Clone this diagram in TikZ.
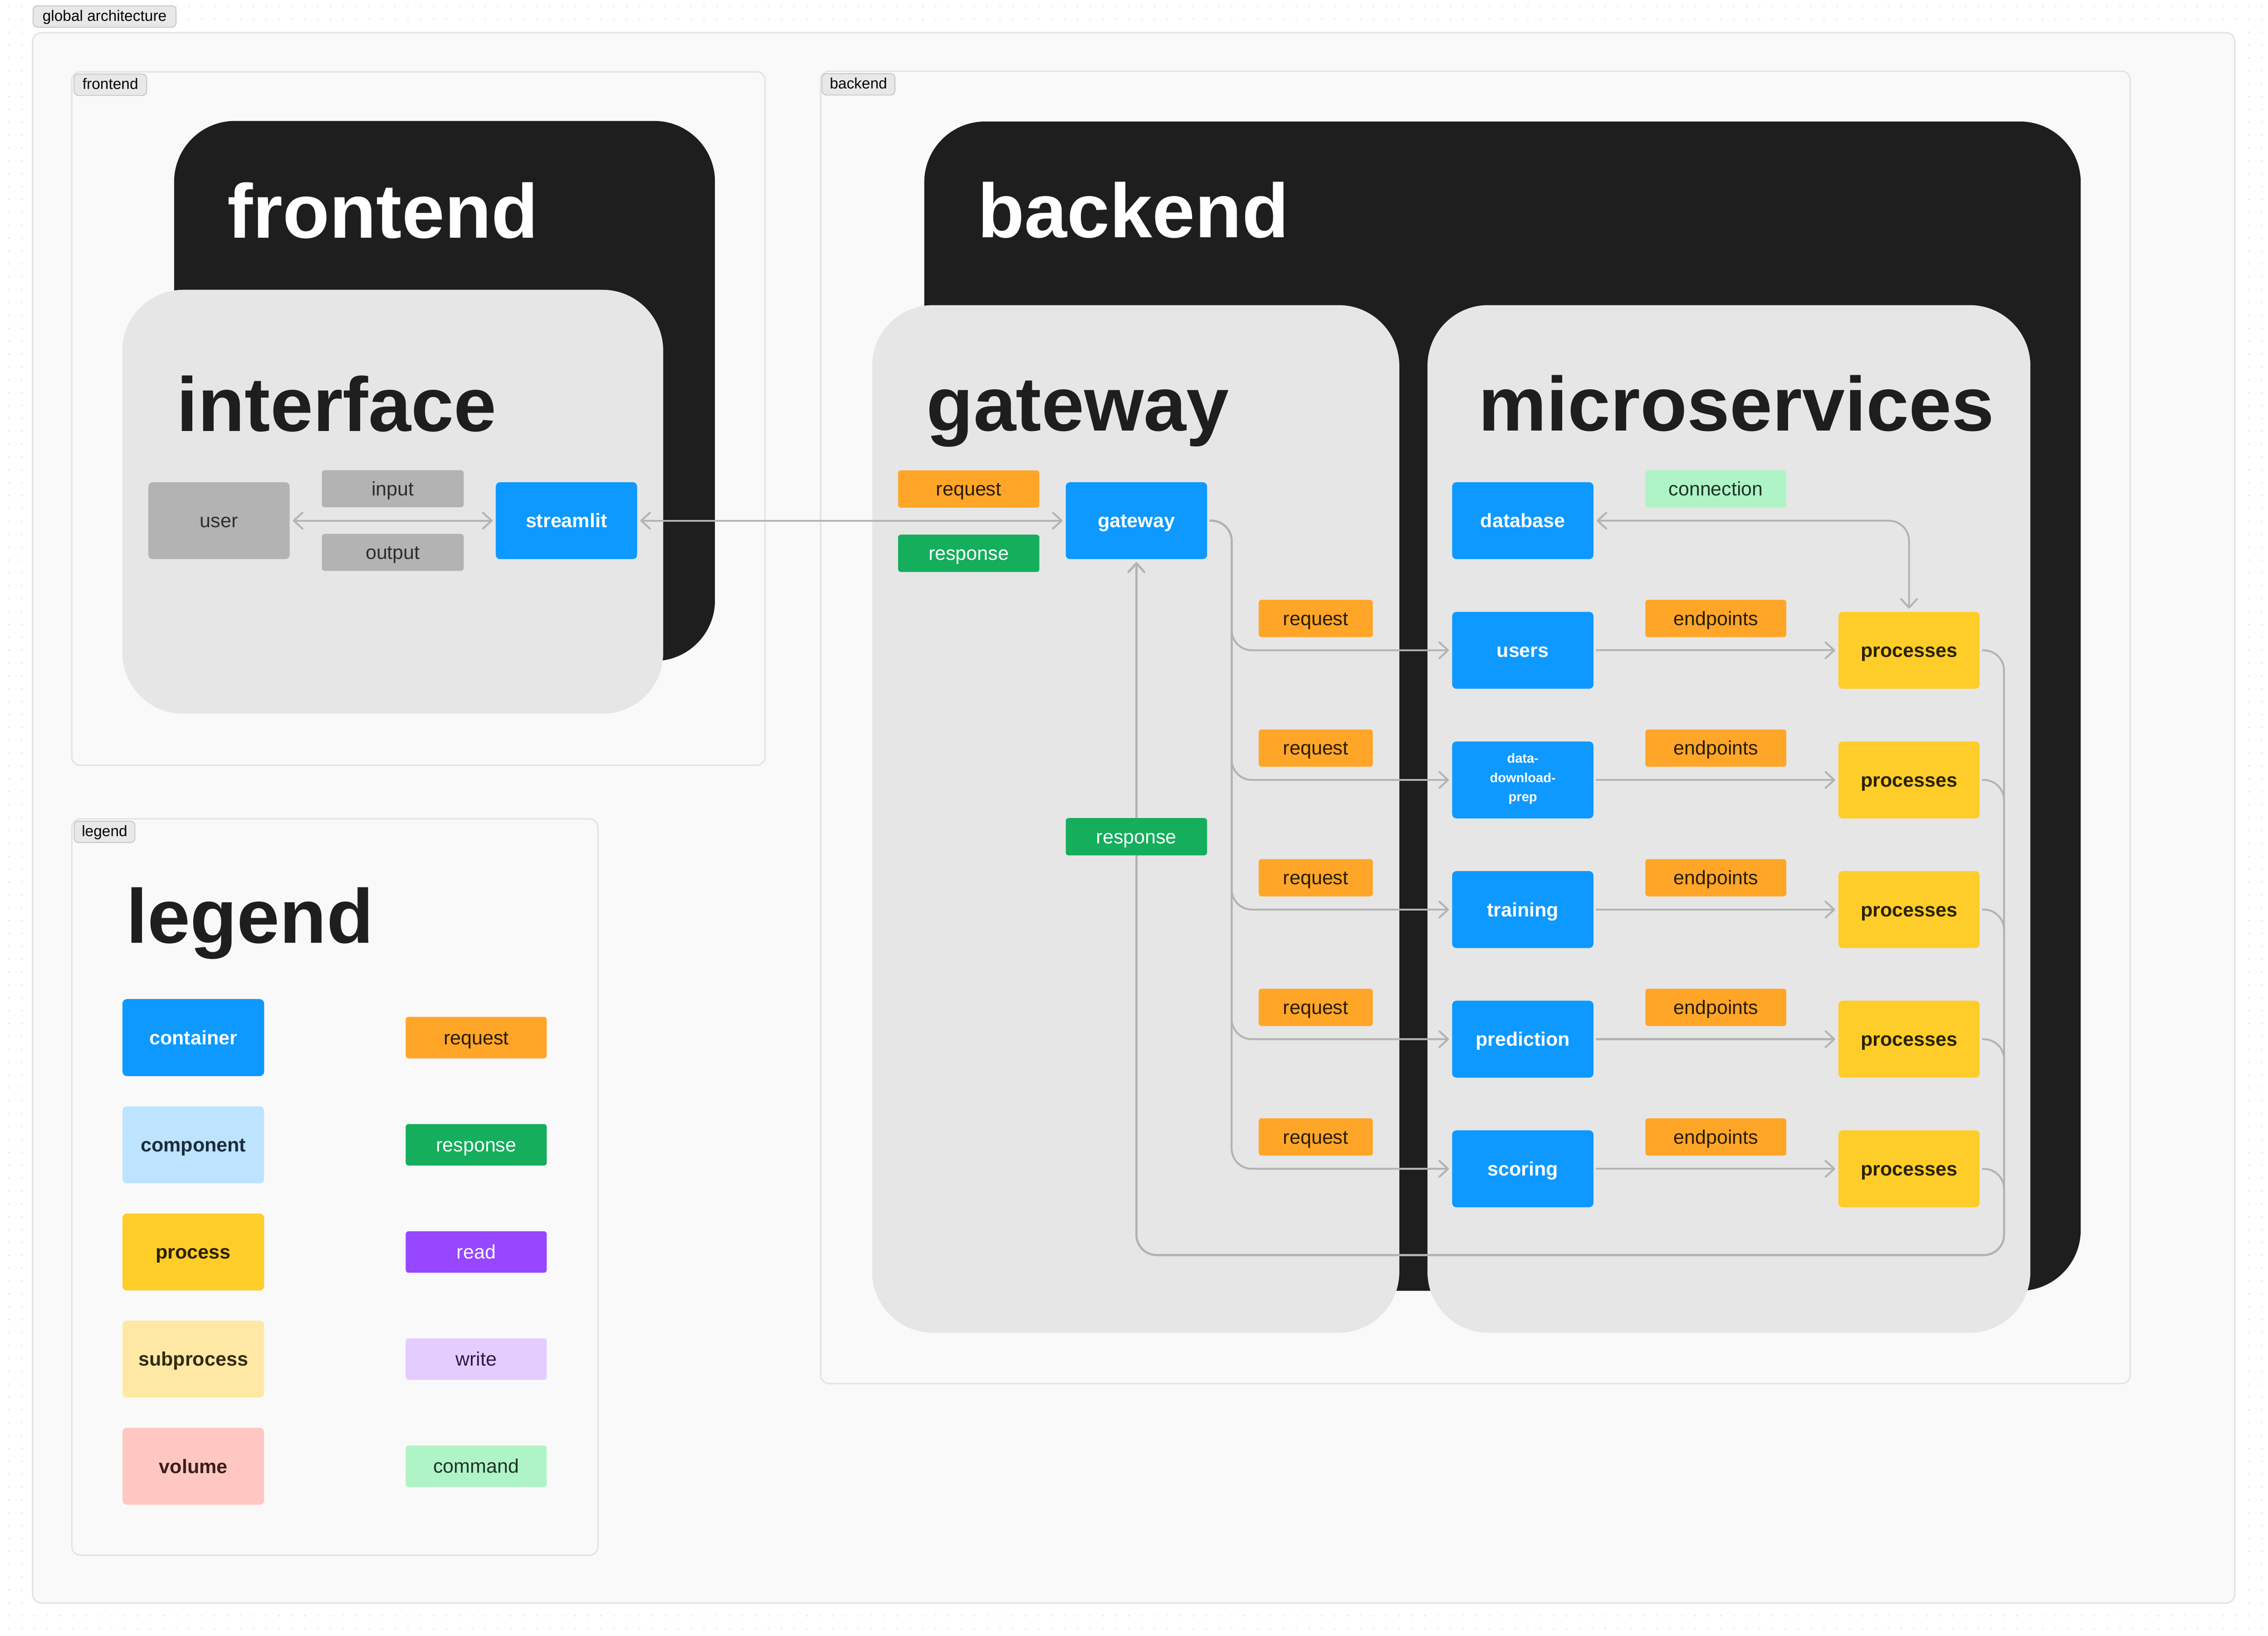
\documentclass[tikz,border=0pt]{standalone}
\usepackage{fontspec}
\setmainfont{Liberation Sans}
\usetikzlibrary{arrows.meta}
\definecolor{cblue}{HTML}{0D99FF}
\definecolor{corange}{HTML}{FFA629}
\definecolor{cgreen}{HTML}{14AE5C}
\definecolor{cyellow}{HTML}{FFCD29}
\definecolor{clblue}{HTML}{BDE3FF}
\definecolor{csub}{HTML}{FFE8A3}
\definecolor{cvol}{HTML}{FFC7C2}
\definecolor{cpurple}{HTML}{9747FF}
\definecolor{clpurple}{HTML}{E4CCFF}
\definecolor{cmint}{HTML}{AFF4C6}
\definecolor{cgray}{HTML}{B3B3B3}
\definecolor{cpanel}{HTML}{E6E6E6}
\definecolor{cdark}{HTML}{1E1E1E}
\definecolor{cframe}{HTML}{F9F9F9}
\definecolor{cframeline}{HTML}{E3E3E3}
\definecolor{ctab}{HTML}{E8E8E8}
\definecolor{ctabline}{HTML}{C4C4C4}
\definecolor{cdot}{HTML}{E3E3E3}
\definecolor{cline}{HTML}{B3B3B3}
\definecolor{tbrown}{HTML}{2B1B05}
\definecolor{tyel}{HTML}{2B2100}
\definecolor{tmint}{HTML}{1F3326}
\definecolor{tblue}{HTML}{1B2B3B}
\definecolor{tsub}{HTML}{332A14}
\definecolor{tvol}{HTML}{3B1E1C}
\definecolor{tpurple}{HTML}{2E1A47}
\definecolor{tgray}{HTML}{2E2E2E}
\begin{document}
\begin{tikzpicture}[x=1pt,y=-1pt,
  frame/.style={fill=cframe, draw=cframeline, line width=1pt, rounded corners=6pt},
  tabl/.style={fill=ctab, draw=ctabline, line width=0.6pt, rounded corners=3pt, inner sep=0pt,
    minimum height=14.8pt, text height=8pt, text depth=1.8pt, font=\fontsize{10.5}{12}\selectfont, text=black, anchor=north west},
  title/.style={anchor=base west, inner sep=0pt, font=\bfseries\fontsize{53}{60}\selectfont},
  boxbase/.style={rounded corners=3pt, inner sep=0pt, minimum width=97.7pt, minimum height=53.2pt, align=center},
  box/.style={boxbase, text height=11pt, text depth=1.4pt, font=\bfseries\fontsize{13.5}{16}\selectfont},
  ctr/.style={box, fill=cblue, text=white},
  proc/.style={box, fill=cyellow, text=tyel},
  tagb/.style={rounded corners=2pt, inner sep=0pt, minimum width=97.7pt, minimum height=25.8pt,
    text height=11pt, text depth=1.6pt, font=\fontsize{13.5}{16}\selectfont},
  req/.style={tagb, fill=corange, text=tbrown},
  resp/.style={tagb, fill=cgreen, text=white},
  conn/.style={draw=cline, line width=1.3pt, rounded corners=14pt, line cap=round,
    shorten >=2pt, shorten <=2pt},
  >={Straight Barb[length=6pt,width=11pt,round]}
]
\useasboundingbox (0,0) rectangle (1568,1130.65);
\fill[white] (0,0) rectangle (1568,1130.65);
% dot grid in the margins
\foreach \i in {0,...,175}{\foreach \j in {0,1,125,126}{\fill[cdot] ({6.1+8.9*\i},{4.4+8.9*\j}) circle (0.6pt);}}
\foreach \j in {2,...,124}{\foreach \i in {0,1,174,175}{\fill[cdot] ({6.1+8.9*\i},{4.4+8.9*\j}) circle (0.6pt);}}

% frames
\draw[frame] (22.6,22.6) rectangle (1545,1108);
\node[tabl, minimum width=98.8pt] (tabglobal) at (22.6,3.7) {global architecture};
\draw[frame] (49.6,49.6) rectangle (529,529);
\node[tabl, minimum width=50.2pt] (tabfront) at (50.9,50.9) {frontend};
\draw[frame] (567.4,49.2) rectangle (1472.7,956.4);
\node[tabl, minimum width=50.4pt] (tabback) at (568,50.6) {backend};
\draw[frame] (49.7,566) rectangle (413.4,1075);
\node[tabl, minimum width=42pt] (tablegend) at (51,567.3) {legend};

% frontend panels
\fill[cdark, rounded corners=42pt] (120.4,83.6) rectangle (494.3,456.9);
\node[title, text=white] (tfrontend) at (157,164.5) {frontend};
\fill[cpanel, rounded corners=42pt] (84.6,200.3) rectangle (458.5,493.3);
\node[title, text=cdark] (tinterface) at (122,298) {interface};

% backend panels
\fill[cdark, rounded corners=42pt] (639,84) rectangle (1438.5,892.2);
\node[title, text=white] (tbackend) at (675.8,164.2) {backend};
\fill[cpanel, rounded corners=42pt] (603,210.9) rectangle (967.4,921.2);
\node[title, text=cdark] (tgateway) at (640.4,297.7) {gateway};
\fill[cpanel, rounded corners=42pt] (986.9,210.9) rectangle (1403.7,921.2);
\node[title, text=cdark] (tmicro) at (1022,297.7) {microservices};

% interface nodes
\node[box, fill=cgray, text=tgray, font=\fontsize{13.5}{16}\selectfont] (user) at (151.4,359.9) {user};
\node[tagb, fill=cgray, text=tgray, minimum width=98.1pt, minimum height=25.6pt] (input) at (271.55,337.8) {input};
\node[tagb, fill=cgray, text=tgray, minimum width=98.1pt, minimum height=25.6pt] (output) at (271.55,381.8) {output};
\node[ctr] (streamlit) at (391.6,359.9) {streamlit};

% gateway nodes
\node[req] (gwreq) at (669.75,338) {request};
\node[resp] (gwresp) at (669.75,382.45) {response};
\node[ctr] (gateway) at (785.65,359.9) {gateway};

% microservices nodes
\node[ctr] (database) at (1052.8,359.9) {database};
\node[tagb, fill=cmint, text=tmint, minimum width=97.5pt] (connection) at (1186.25,338) {connection};

\node[ctr] (users) at (1052.8,449.5) {users};
\node[ctr] (ddp) at (1052.8,539.1) {};
\node[boxbase, text=white, font=\bfseries\fontsize{9.1}{13.3}\selectfont, minimum height=0pt, minimum width=0pt] (ddptext) at ([yshift=0.8pt]ddp.center) {data-\\download-\\prep};
\node[ctr] (training) at (1052.8,628.7) {training};
\node[ctr] (prediction) at (1052.8,718.3) {prediction};
\node[ctr] (scoring) at (1052.8,807.9) {scoring};

\node[proc] (p1) at (1319.8,449.5) {processes};
\node[proc] (p2) at (1319.8,539.1) {processes};
\node[proc] (p3) at (1319.8,628.7) {processes};
\node[proc] (p4) at (1319.8,718.3) {processes};
\node[proc] (p5) at (1319.8,807.9) {processes};

\foreach \r/\n in {449.5/1,539.1/2,628.7/3,718.3/4,807.9/5}{
  \node[req, minimum width=78.9pt] (rq\n) at (909.65,\r-22) {request};
  \node[req, minimum width=97.5pt] (ep\n) at (1186.25,\r-22) {endpoints};
}

\coordinate (gwbus) at (851.5,359.9);
\coordinate (retbus) at (1385.5,867.5);

% connectors
\draw[conn,<->] (user.east) -- (streamlit.west);
\draw[conn,<->] (streamlit.east) -- (gateway.west);
\foreach \s in {users,ddp,training,prediction,scoring}{
  \draw[conn,->] (gateway.east) -| (gwbus |- \s.west) -- (\s.west);
}
\draw[conn,->] (users.east) -- (p1.west);
\draw[conn,->] (ddp.east) -- (p2.west);
\draw[conn,->] (training.east) -- (p3.west);
\draw[conn,->] (prediction.east) -- (p4.west);
\draw[conn,->] (scoring.east) -- (p5.west);
\draw[conn,<->] (database.east) -| (p1.north);
\foreach \p in {p1,p2,p3,p4,p5}{
  \draw[conn,->] (\p.east) -| (retbus) -| (gateway.south);
}
\node[resp] (midresp) at (785.65,578.35) {response};

% legend
\node[title, text=cdark] (tlegend) at (87.2,651.9) {legend};
\node[box, fill=cblue, text=white, minimum width=97.9pt] (lcontainer) at (133.65,717.2) {container};
\node[box, fill=clblue, text=tblue, minimum width=97.9pt] (lcomponent) at (133.65,791.3) {component};
\node[box, fill=cyellow, text=tyel, minimum width=97.9pt] (lprocess) at (133.65,865.4) {process};
\node[box, fill=csub, text=tsub, minimum width=97.9pt] (lsubprocess) at (133.65,939.4) {subprocess};
\node[box, fill=cvol, text=tvol, minimum width=97.9pt] (lvolume) at (133.65,1013.5) {volume};
\node[tagb, fill=corange, text=tbrown, minimum width=97.5pt, minimum height=28.7pt] (lrequest) at (329.25,717.2) {request};
\node[tagb, fill=cgreen, text=white, minimum width=97.5pt, minimum height=28.7pt] (lresponse) at (329.25,791.3) {response};
\node[tagb, fill=cpurple, text=white, minimum width=97.5pt, minimum height=28.7pt] (lread) at (329.25,865.4) {read};
\node[tagb, fill=clpurple, text=tpurple, minimum width=97.5pt, minimum height=28.7pt] (lwrite) at (329.25,939.4) {write};
\node[tagb, fill=cmint, text=tmint, minimum width=97.5pt, minimum height=28.7pt] (lcommand) at (329.25,1013.5) {command};
\end{tikzpicture}
\end{document}
